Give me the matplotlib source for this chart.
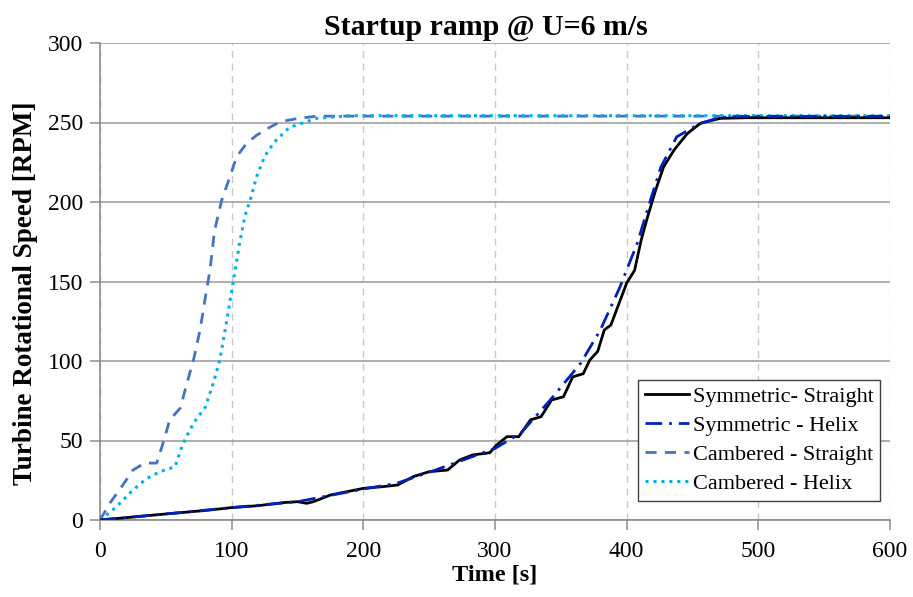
import matplotlib
matplotlib.use("Agg")
import matplotlib.pyplot as plt

plt.rcParams['font.family'] = ['Liberation Serif', 'DejaVu Serif']

# Symmetric blade, straight
sym_straight_t = [0, 20, 50, 80, 100, 120, 140, 150, 157, 162, 175, 200, 215, 226, 238, 250,
                  264, 273, 283, 296, 301, 309, 318, 327, 335, 343, 352, 359, 367, 372, 378,
                  383, 388, 395, 400, 406, 411, 416, 422, 428, 436, 446, 456, 471, 490, 520,
                  560, 600]
sym_straight_rpm = [0, 1.5, 3.8, 6, 7.8, 9, 11, 11.5, 10.5, 11.5, 15.7, 19.9, 21, 22, 27.3, 30.4,
                    31.4, 37.7, 40.9, 42.3, 47, 52.4, 52.4, 63, 65, 75.5, 77.5, 90, 92, 100.6, 106,
                    119.5, 122.6, 138, 149, 157, 176, 191, 207.5, 222, 232.7, 243, 249.5, 252.6,
                    253, 253, 253, 253]

# Symmetric blade, helix
sym_helix_t = [0, 50, 100, 150, 175, 200, 225, 250, 275, 300, 320, 342, 365, 380, 395, 408,
               418, 426, 438, 456, 471, 490, 520, 560, 600]
sym_helix_rpm = [0, 3.8, 7.8, 11.5, 15.5, 19.5, 23, 30, 37.5, 45, 55, 75.5, 98.5, 119.5, 146.7,
                 174, 201, 222, 241, 249.5, 253.2, 253.8, 253.8, 253.8, 253.8]

# Cambered blade, straight
cam_straight_t = [0, 7.6, 16.5, 25, 34, 43, 47, 53, 61, 66, 71, 76, 80, 83.5, 87, 92.4, 98.7,
                  103.8, 111.4, 119, 129, 137, 150, 165, 180, 200, 300, 400, 500, 600]
cam_straight_rpm = [0, 10.7, 21, 31.4, 35.8, 35.8, 46, 63, 70.4, 86, 100.6, 119.5, 140, 157,
                    182, 201, 216, 228.5, 237, 242, 247, 250.5, 252.5, 254, 254, 254, 254, 254,
                    254, 254]

# Cambered blade, helix
cam_helix_t = [0, 12.7, 25, 35.4, 45.6, 57, 63, 71, 80, 86, 91, 96, 101, 106, 110, 114, 119,
               125, 129, 134, 144, 164.5, 190, 250, 350, 450, 600]
cam_helix_rpm = [0, 8.4, 18.9, 26, 30.4, 33.5, 48, 61, 71, 86, 100.6, 124, 149, 174, 191, 201,
                 216, 228.5, 233.8, 239, 247, 252.6, 254.3, 254.3, 254.3, 254.3, 254.3]

x_ticks = [0, 100, 200, 300, 400, 500, 600]
y_ticks = [0, 50, 100, 150, 200, 250, 300]

fig = plt.figure(figsize=(9.13, 5.97), dpi=100)
ax = fig.add_axes([100 / 913, 1 - 520 / 597, 790 / 913, 477 / 597])

ax.plot(cam_straight_t, cam_straight_rpm, color='#4472C4', lw=2.0, ls=(0, (4, 3)),
        label='Cambered - Straight', zorder=3)
ax.plot(cam_helix_t, cam_helix_rpm, color='#00B0F0', lw=2.2, ls=(0, (1, 1.6)),
        label='Cambered - Helix', zorder=3)
ax.plot(sym_straight_t, sym_straight_rpm, color='black', lw=2.0, ls='-',
        label='Symmetric- Straight', zorder=4)
ax.plot(sym_helix_t, sym_helix_rpm, color='#0022BB', lw=2.0, ls=(0, (6, 2.5, 1, 2.5)),
        label='Symmetric - Helix', zorder=5)

ax.set_xlim(0, 600)
ax.set_ylim(0, 300)
ax.set_xticks(x_ticks)
ax.set_yticks(y_ticks)

ax.yaxis.grid(True, color='#a0a0a0', lw=1.2, ls='-')
ax.xaxis.grid(True, color='#c8c8c8', lw=1.0, ls=(0, (5, 4)))
ax.set_axisbelow(True)

for side in ['top', 'right']:
    ax.spines[side].set_visible(False)
for side in ['left', 'bottom']:
    ax.spines[side].set_color('#8c8c8c')
    ax.spines[side].set_linewidth(1.2)

ax.tick_params(axis='both', direction='out', length=7, width=1.1, color='#8c8c8c',
               labelsize=17)
ax.tick_params(axis='x', pad=8)
ax.tick_params(axis='y', pad=5)

ax.set_xlabel('Time [s]', fontsize=17.5, fontweight='bold', labelpad=2)
ax.set_ylabel('Turbine Rotational Speed [RPM]', fontsize=19.5, fontweight='bold', labelpad=6)
ax.yaxis.set_label_coords(-0.078, 0.475)
ax.set_title('Startup ramp @ U=6 m/s', fontsize=21.5, fontweight='bold', pad=6, x=0.488)

handles, labels = ax.get_legend_handles_labels()
order = [2, 3, 0, 1]
leg = ax.legend([handles[i] for i in order], [labels[i] for i in order],
                loc='lower right', bbox_to_anchor=(0.9875, 0.04), fontsize=16,
                frameon=True, fancybox=False, handlelength=2.0, handletextpad=0.15,
                borderpad=0.3, labelspacing=0.38, borderaxespad=0)
leg.get_frame().set_edgecolor('#404040')
leg.get_frame().set_linewidth(1.0)
leg.get_frame().set_alpha(1)

fig.savefig('out.png', dpi=100)
